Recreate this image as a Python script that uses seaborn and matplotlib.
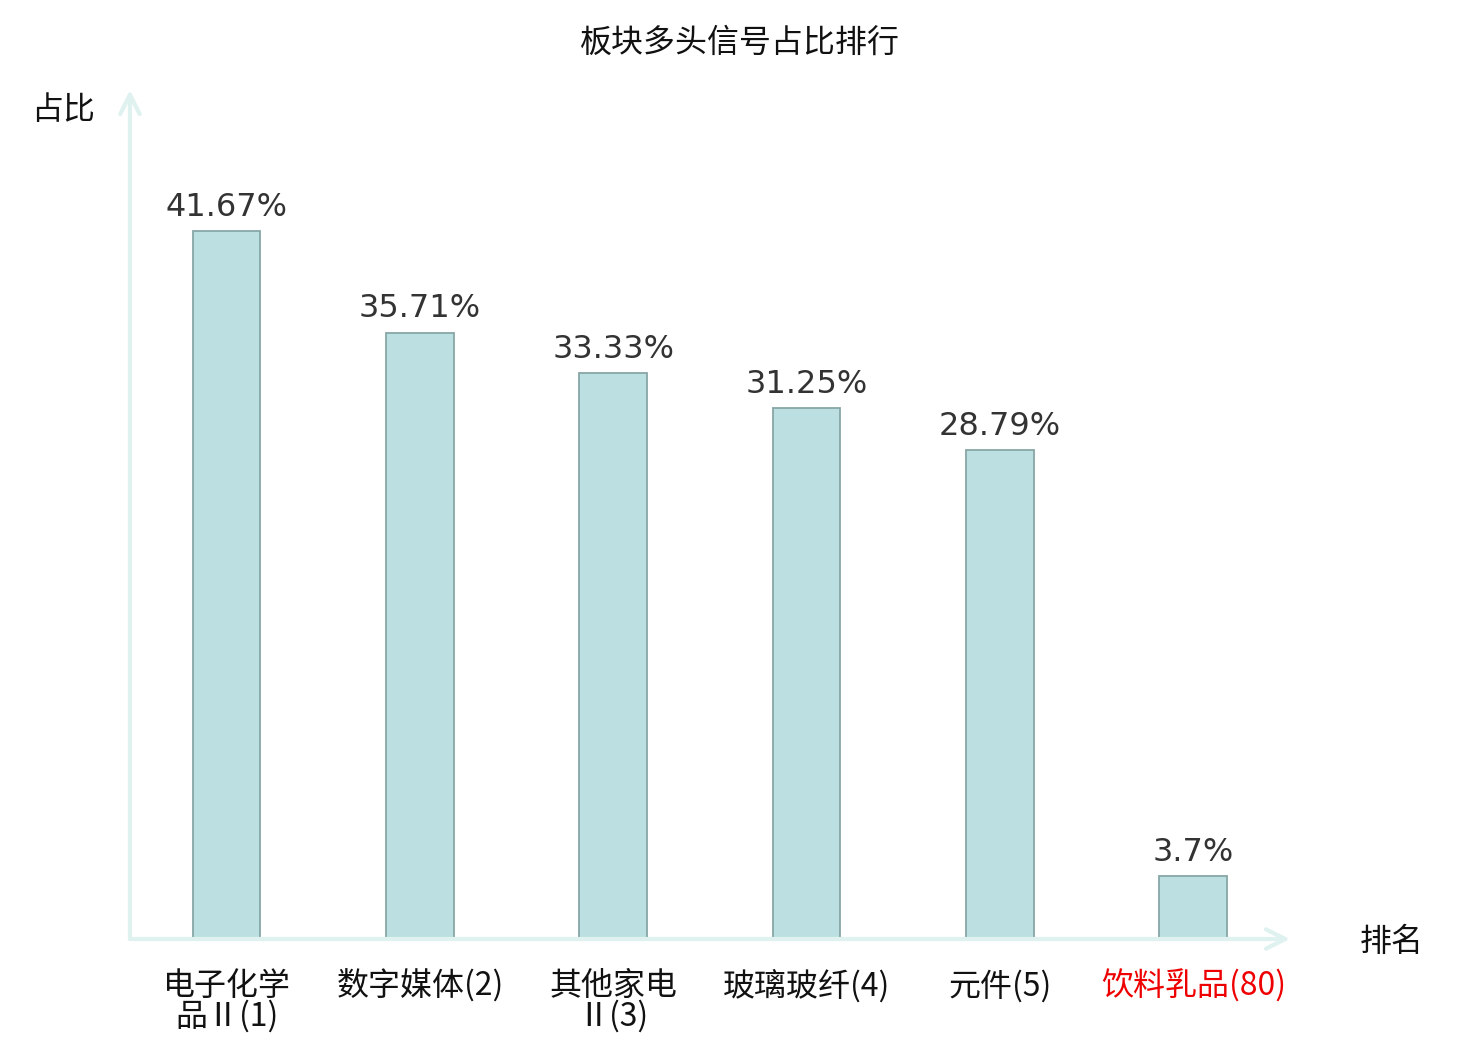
import matplotlib
matplotlib.use('Agg')
import matplotlib.pyplot as plt
import seaborn as sns
import pandas as pd

# data
sectors = ['电子化学品Ⅱ', '数字媒体', '其他家电Ⅱ', '玻璃玻纤', '元件', '饮料乳品']
ranks = [1, 2, 3, 4, 5, 80]
ratios = [41.67, 35.71, 33.33, 31.25, 28.79, 3.7]
ratio_text = ['41.67%', '35.71%', '33.33%', '31.25%', '28.79%', '3.7%']
tick_text = ['电子化学\n品Ⅱ(1)', '数字媒体(2)', '其他家电\nⅡ(3)', '玻璃玻纤(4)', '元件(5)', '饮料乳品(80)']

df = pd.DataFrame({'sector': sectors, 'ratio': ratios})

sns.set_theme(style='white')
plt.rcParams['font.family'] = ['Noto Sans CJK SC', 'DejaVu Sans']

fig = plt.figure(figsize=(14.8, 10.4), dpi=100)
ax = fig.add_axes([0.0878, 0.0971, 0.7838, 0.8164])

sns.barplot(data=df, x='sector', y='ratio', ax=ax, width=0.35,
            color='#bce0e2', edgecolor='#87a6a6', linewidth=1.3, saturation=1)

ax.set_xlim(-0.5, 5.5)
ax.set_ylim(0, 50)
for s in ax.spines.values():
    s.set_visible(False)
ax.set_yticks([])
ax.set_xlabel('')
ax.set_ylabel('')

ax.bar_label(ax.containers[0], labels=ratio_text, padding=6, fontsize=23,
             color='#333333', family='DejaVu Sans')

ax.set_xticks(range(len(tick_text)))
ax.set_xticklabels(tick_text, fontsize=23, linespacing=0.95)
ax.tick_params(axis='x', length=0, pad=22)
for lbl, r in zip(ax.get_xticklabels(), ranks):
    lbl.set_color('#ee0000' if r > 10 else '#111111')

# axis arrows
axis_col = '#dff2f0'
ax.annotate('', xy=(1.0, 0), xytext=(0, 0), xycoords='axes fraction',
            arrowprops=dict(arrowstyle='->', color=axis_col, lw=3,
                            mutation_scale=35, shrinkA=0, shrinkB=0),
            annotation_clip=False)
ax.annotate('', xy=(0, 1.0), xytext=(0, 0), xycoords='axes fraction',
            arrowprops=dict(arrowstyle='->', color=axis_col, lw=3,
                            mutation_scale=35, shrinkA=0, shrinkB=0),
            annotation_clip=False)

fig.text(0.0426, 0.894, '占比', fontsize=23, ha='center', va='center', color='#111111')
fig.text(0.9405, 0.094, '排名', fontsize=23, ha='center', va='center', color='#111111')
fig.text(0.5, 0.959, '板块多头信号占比排行', fontsize=23, ha='center', va='center', color='#111111')

fig.savefig('out.png', dpi=100)
